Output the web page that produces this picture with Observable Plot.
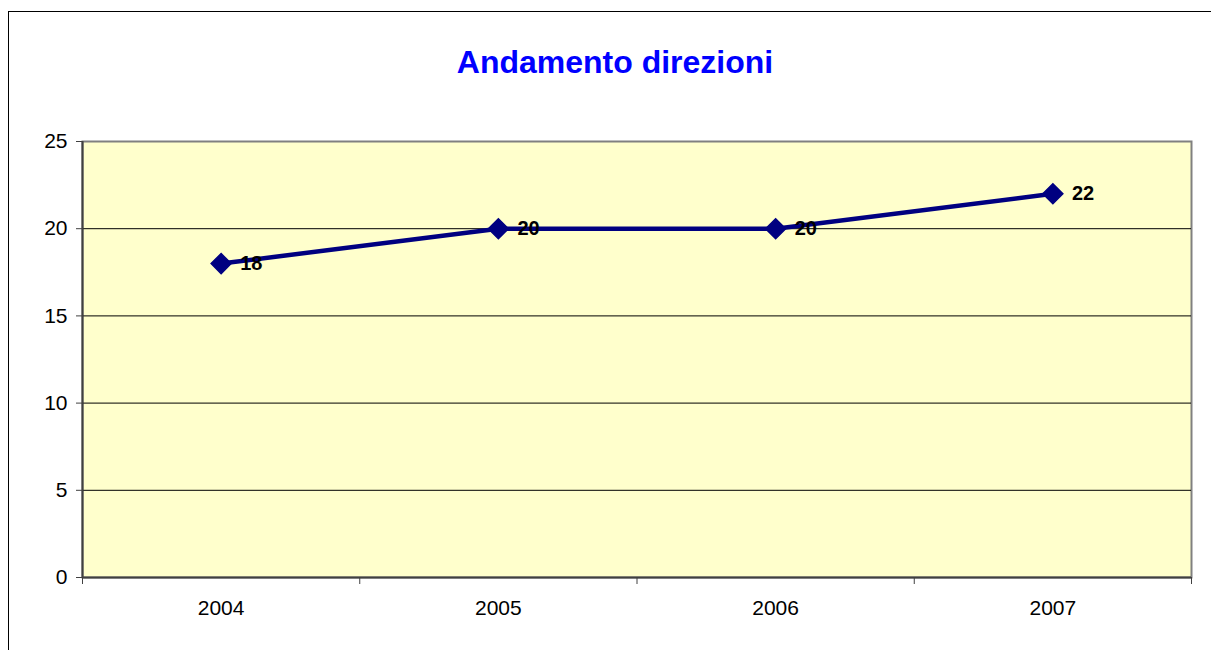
<!DOCTYPE html>
<html>
<head>
<meta charset="utf-8">
<script src="https://cdn.jsdelivr.net/npm/d3@7"></script>
<script src="https://cdn.jsdelivr.net/npm/@observablehq/plot@0.6"></script>
<style>
  html, body { margin: 0; padding: 0; background: #fff; overflow: hidden; }
  #wrap { position: relative; width: 1211px; height: 650px; font-family: "Liberation Sans", Arial, sans-serif; }
  #frame { position: absolute; left: 8px; top: 11px; width: 1400px; height: 800px; border-left: 1.5px solid #000; border-top: 1.5px solid #000; box-sizing: border-box; }
  #title { position: absolute; left: 8px; width: 1214px; top: 46px; text-align: center; font-size: 32px; line-height: 32px; font-weight: bold; color: #0000ff; }
  #chart { position: absolute; left: 0; top: 100px; }
</style>
</head>
<body>
<div id="wrap">
  <div id="frame"></div>
  <div id="title">Andamento direzioni</div>
  <div id="chart"></div>
</div>
<script>
const years = ["2004", "2005", "2006", "2007"];
const values = [18, 20, 20, 22];
const yTicks = [0, 5, 10, 15, 20, 25];
const gridValues = [5, 10, 15, 20];

const data = years.map((y, i) => ({ year: y, value: values[i], pos: i + 0.5 }));
const bounds = d3.range(years.length + 1);

const chart = Plot.plot({
  width: 1211,
  height: 550,
  marginTop: 41,
  marginBottom: 73,
  marginLeft: 82,
  marginRight: 20,
  style: { fontFamily: "'Liberation Sans', Arial, sans-serif", background: "transparent" },
  x: { type: "linear", domain: [0, years.length], axis: null },
  y: { domain: [0, 25], axis: null },
  marks: [
    Plot.frame({ fill: "#ffffcc", stroke: "#808080", strokeWidth: 2 }),
    Plot.ruleY(gridValues, { stroke: "#000", strokeWidth: 1 }),
    Plot.ruleX([0], { stroke: "#404040", strokeWidth: 2 }),
    Plot.ruleY([0], { stroke: "#404040", strokeWidth: 2 }),
    Plot.axisY(yTicks, { tickSize: 6, tickPadding: 9, fontSize: 21, fill: "#000", stroke: "#404040", label: null }),
    Plot.axisX(bounds, { tickSize: 7, tickFormat: () => "", stroke: "#404040", label: null }),
    Plot.text(data, { x: "pos", y: 0, text: "year", dy: 31, fontSize: 21, fill: "#000" }),
    Plot.line(data, { x: "pos", y: "value", stroke: "#000080", strokeWidth: 4.5 }),
    Plot.dot(data, { x: "pos", y: "value", symbol: "diamond2", r: 9, fill: "#000080", stroke: "#000080" }),
    Plot.text(data, { x: "pos", y: "value", text: d => String(d.value), textAnchor: "start", dx: 19, fontSize: 20, fontWeight: "bold", fill: "#000" })
  ]
});
document.getElementById("chart").appendChild(chart);
</script>
</body>
</html>
